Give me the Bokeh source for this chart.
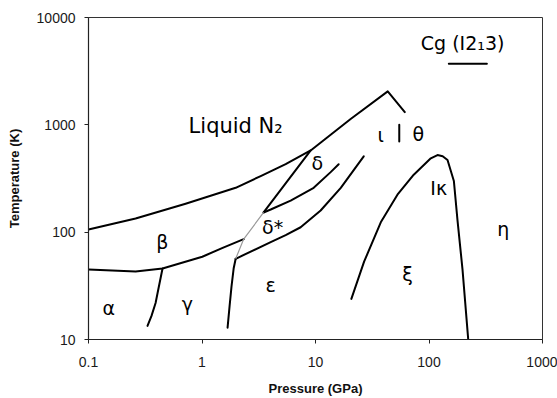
from bokeh.plotting import figure
from bokeh.models import Range1d, FixedTicker, ColumnDataSource, NumeralTickFormatter
from bokeh.embed import file_html
from bokeh.resources import INLINE
from bokeh.core.properties import value

# ---- data: phase boundaries of nitrogen (Pressure in GPa, Temperature in K) ----
melt_P = [0.1, 0.26, 0.717, 1.98, 3.29, 5.46, 9.07, 20.4, 43.3, 61.2]
melt_T = [106, 134, 184, 259, 333, 430, 577, 1135, 2050, 1315]

beta_low_P = [0.1, 0.26, 0.449, 1.006, 1.52, 2.33]
beta_low_T = [44.8, 43.0, 45.8, 59.0, 71.3, 86.2]

alpha_gamma_P = [0.449, 0.414, 0.390, 0.359, 0.331]
alpha_gamma_T = [45.8, 30.0, 21.9, 16.6, 13.4]

gamma_eps_P = [1.68, 1.75, 1.82, 1.90, 1.98]
gamma_eps_T = [12.9, 20.5, 31.3, 45.8, 56.5]

beta_delta_P = [1.98, 2.33, 3.49]
beta_delta_T = [56.5, 86.2, 152.6]

delta_liq_P = [3.49, 9.07]
delta_liq_T = [152.6, 577]

delta_dstar_P = [3.49, 4.03, 6.04, 9.64, 13.6, 16.0]
delta_dstar_T = [152.6, 162.5, 196.7, 258.8, 362.7, 429.5]

eps_dstar_P = [1.98, 4.03, 5.46, 7.40, 11.1, 16.7, 26.6]
eps_dstar_T = [56.5, 80.9, 93.9, 111.1, 159.2, 258.8, 508.5]

xi_P = [20.7, 26.8, 37.6, 52.7, 73.4, 103.7, 118.8, 132.0, 145.6, 165.6, 178.3, 197.4, 221.3]
xi_T = [23.9, 53.1, 123.5, 223.2, 342.8, 487.5, 522.5, 510.0, 470.5, 300, 128.8, 44.8, 10.2]

iota_theta_P = [54.7, 54.7]
iota_theta_T = [700, 1000]

cg_P = [149.5, 323.4]
cg_T = [3707, 3707]

label_text = ["α", "β", "γ", "ε", "δ", "δ*", "ι", "θ", "Iκ", "ξ", "η"]
label_P = [0.151, 0.447, 0.742, 4.03, 10.4, 4.19, 37.6, 80.5, 121.9, 64.6, 451]
label_T = [19.8, 80.9, 21.6, 32.4, 438, 111, 809, 826, 258.8, 41.2, 106.5]

liquid_text = ["Liquid N₂"]
liquid_P = [0.762]
liquid_T = [979]

cg_text = ["Cg (I2₁3)"]
cg_label_P = [84.7]
cg_label_T = [5822]

x_ticks = [0.1, 1, 10, 100, 1000]
x_tick_labels = ["0.1", "1", "10", "100", "1000"]
y_ticks = [10, 100, 1000, 10000]
y_tick_labels = ["10", "100", "1000", "10000"]

# ---- figure ----
p = figure(width=557, height=398, x_axis_type="log", y_axis_type="log",
           x_range=Range1d(0.1, 1000), y_range=Range1d(10, 10000),
           output_backend="svg", toolbar_location=None,
           min_border_left=88, min_border_right=15, min_border_top=17, min_border_bottom=54)
p.background_fill_color = "white"
p.border_fill_color = "white"
p.outline_line_color = "#333333"
p.outline_line_width = 1
p.grid.visible = False

for ax, ticks, labels in ((p.xaxis, x_ticks, x_tick_labels), (p.yaxis, y_ticks, y_tick_labels)):
    ax.ticker = FixedTicker(ticks=ticks)
    ax.formatter = NumeralTickFormatter(format="0.[0]")
    ax.major_label_overrides = {t: l for t, l in zip(ticks, labels)}
    ax.axis_line_color = "#222222"
    ax.axis_line_width = 1.2
    ax.major_tick_line_color = "#222222"
    ax.major_tick_in = 0
    ax.major_tick_out = 4
    ax.minor_tick_line_color = None
    ax.major_label_text_font = "Liberation Sans"
    ax.major_label_text_font_size = "14px"
    ax.major_label_text_color = "#1a1a1a"
    ax.axis_label_text_font = "Liberation Sans"
    ax.axis_label_text_font_style = "bold"
    ax.axis_label_text_font_size = "13px"
    ax.axis_label_text_color = "#111111"

p.xaxis.axis_label = "Pressure (GPa)"
p.yaxis.axis_label = "Temperature (K)"
p.xaxis.major_label_standoff = 13
p.xaxis.axis_label_standoff = 11
p.yaxis.major_label_standoff = 9
p.yaxis.axis_label_standoff = 12

black_lines = [
    (melt_P, melt_T), (beta_low_P, beta_low_T), (alpha_gamma_P, alpha_gamma_T),
    (gamma_eps_P, gamma_eps_T), (delta_liq_P, delta_liq_T), (delta_dstar_P, delta_dstar_T),
    (eps_dstar_P, eps_dstar_T), (xi_P, xi_T), (iota_theta_P, iota_theta_T), (cg_P, cg_T),
]
for xs, ys in black_lines:
    p.line(xs, ys, line_color="black", line_width=2, line_join="round", line_cap="round")

p.line(beta_delta_P, beta_delta_T, line_color="#9a9a9a", line_width=1.2)

src = ColumnDataSource(data=dict(x=label_P, y=label_T, t=label_text))
p.text(x="x", y="y", text="t", source=src, text_font=value("DejaVu Sans"),
       text_font_size="19px", text_align="center", text_baseline="middle", text_color="black")

p.text(x=liquid_P, y=liquid_T, text=liquid_text, text_font=value("DejaVu Sans"),
       text_font_size="21px", text_align="left", text_baseline="middle", text_color="black")
p.text(x=cg_label_P, y=cg_label_T, text=cg_text, text_font=value("DejaVu Sans"),
       text_font_size="19px", text_align="left", text_baseline="middle", text_color="black")

open("out.html", "w").write(file_html(p, INLINE))
